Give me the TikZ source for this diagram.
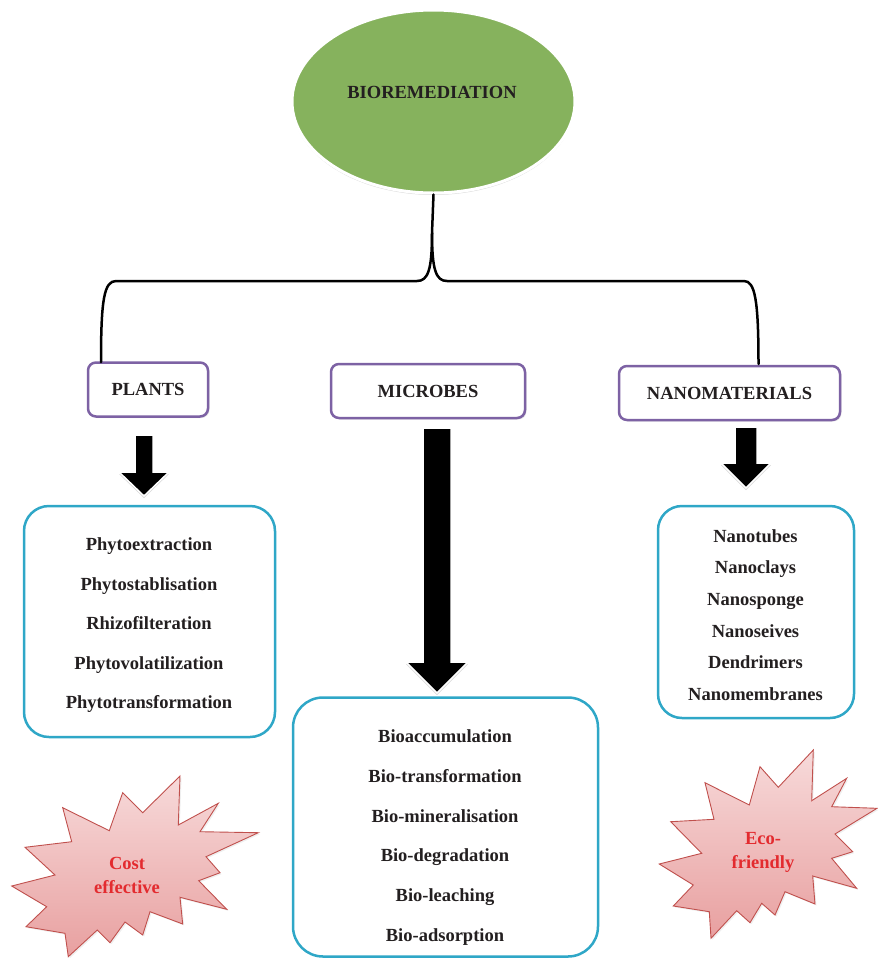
\documentclass[tikz,border=0pt]{standalone}
\usepackage{fontspec}
\setmainfont{Liberation Serif}
\usetikzlibrary{shadows,shapes.geometric}
\definecolor{leaf}{HTML}{86B25D}
\definecolor{plum}{HTML}{7D62A4}
\definecolor{aqua}{HTML}{2FA7C7}
\definecolor{ink}{HTML}{231F20}
\definecolor{redtxt}{HTML}{E32B2F}
\definecolor{starline}{HTML}{C0504D}
\definecolor{startop}{HTML}{F7DADA}
\definecolor{starbot}{HTML}{E8A0A0}
\begin{document}
\begin{tikzpicture}[x=1pt,y=-1pt,
  every node/.style={font=\fontsize{18.5}{22}\selectfont\bfseries, text=ink},
  rootnode/.style={ellipse, fill=leaf, draw=white, line width=3pt, inner sep=0pt,
    minimum width=283, minimum height=183,
    drop shadow={shadow xshift=0pt, shadow yshift=-2pt, fill=black!40, opacity=0.35}},
  catbox/.style={rectangle, rounded corners=8pt, draw=plum, line width=2.5pt, fill=white,
    inner sep=0pt, minimum height=54,
    drop shadow={shadow xshift=1.5pt, shadow yshift=-1.5pt, fill=black!30, opacity=0.3}},
  listbox/.style={rectangle, draw=aqua, line width=2.5pt, fill=white, inner sep=0pt},
  listtxt/.style={align=center, inner sep=0pt},
  blockarrow/.style={fill=black, draw=white, line width=1.5pt,
    drop shadow={shadow xshift=0pt, shadow yshift=-2pt, fill=black!35, opacity=0.45}},
  burst/.style={draw=starline, line width=0.9pt, top color=startop, bottom color=starbot,
    drop shadow={shadow xshift=1.5pt, shadow yshift=-1.5pt, fill=black!25, opacity=0.25}},
  bursttxt/.style={align=center, inner sep=0pt, text=redtxt,
    font=\fontsize{18.5}{24}\selectfont\bfseries},
  brace/.style={draw=black, line width=2.5pt, line cap=round, line join=round}
]
\useasboundingbox (0,0) rectangle (878,959);

% root
\node[rootnode] (root) at (433.5,101.5) {};
\node[inner sep=0pt] (roottxt) at (432,92) {BIOREMEDIATION};

% category boxes
\node[catbox, minimum width=120] (plants) at (148,389.5) {PLANTS};
\node[catbox, minimum width=194] (microbes) at (428,391) {MICROBES};
\node[catbox, minimum width=221] (nano) at (729.5,393) {NANOMATERIALS};

% brace connector
\coordinate (split) at (432,233);
\coordinate (pl) at (101,362);
\coordinate (na) at (758.5,364);
\draw[brace] (root.south) -- (split)
  .. controls (432,270) and (428,281) .. (417,281) -- (116,281)
  .. controls (104,281) and (101,300) .. (pl);
\draw[brace] (split)
  .. controls (432,270) and (436,281) .. (447,281) -- (744,281)
  .. controls (755,281) and (758.5,300) .. (na);

% list boxes
\node[listbox, rounded corners=25pt, minimum width=251, minimum height=231] (plist) at (149.5,621.5) {};
\node[listbox, rounded corners=30pt, minimum width=305, minimum height=259] (mlist) at (445.5,827) {};
\node[listbox, rounded corners=24pt, minimum width=196, minimum height=212] (nlist) at (756,612) {};

\node[listtxt, font=\fontsize{18.5}{39.5}\selectfont\bfseries] (ptxt) at (149,625.5)
  {Phytoextraction\\Phytostablisation\\Rhizofilteration\\Phytovolatilization\\Phytotransformation};
\node[listtxt, font=\fontsize{18.5}{39.8}\selectfont\bfseries] (mtxt) at (445,837.5)
  {Bioaccumulation\\Bio-transformation\\Bio-mineralisation\\Bio-degradation\\Bio-leaching\\Bio-adsorption};
\node[listtxt, font=\fontsize{18.5}{31.6}\selectfont\bfseries] (ntxt) at (755.5,615)
  {Nanotubes\\Nanoclays\\Nanosponge\\Nanoseives\\Dendrimers\\Nanomembranes};

% block arrows
\path[blockarrow] (135,435) -- (153,435) -- (153,472) -- (169,472) -- (144,496)
  -- (119,472) -- (135,472) -- cycle;
\path[blockarrow] (423,428) -- (451,428) -- (451,662) -- (468,662) -- (437,693)
  -- (406,662) -- (423,662) -- cycle;
\path[blockarrow] (735,427) -- (757,427) -- (757,463) -- (771,463) -- (746,488)
  -- (721,463) -- (735,463) -- cycle;

% bursts
\path[burst] (180,776) -- (178.3,825) -- (218.3,803.3) -- (200,831.7) -- (258.3,832.7)
  -- (206,856.7) -- (220,872.7) -- (198.7,880.7) -- (226.7,909.3) -- (180,897.3)
  -- (182.7,924) -- (150,911.7) -- (142.7,935) -- (125,922) -- (110,942.7)
  -- (97.3,930) -- (68.3,956.7) -- (65,933.3) -- (26,926.7) -- (46.7,906.7)
  -- (11.7,886) -- (55,875) -- (25,847.3) -- (71.7,841.7) -- (62.7,807.7)
  -- (109.3,830.7) -- (122.7,792.7) -- (142.7,812.7) -- cycle;
\node[bursttxt] (cost) at (127,875) {Cost\\effective};

\path[burst] (813.3,750) -- (811.7,800.7) -- (846.7,778.3) -- (831.7,806.7) -- (877,808.3)
  -- (835,834) -- (852.7,851.7) -- (831.7,858.3) -- (856.7,888.3) -- (812.7,876)
  -- (815,904) -- (785,891.7) -- (775,915) -- (761.7,903.3) -- (750,922.7)
  -- (736.7,910.7) -- (711,938.3) -- (709.3,911.7) -- (673.3,906) -- (693.3,885)
  -- (659.3,864) -- (701.7,853.3) -- (670.7,821.7) -- (714,819.3) -- (705,782.7)
  -- (749.3,805) -- (760,766.7) -- (778.3,787.3) -- cycle;
\node[bursttxt] (eco) at (763,852) {Eco-\\friendly};
\end{tikzpicture}
\end{document}
